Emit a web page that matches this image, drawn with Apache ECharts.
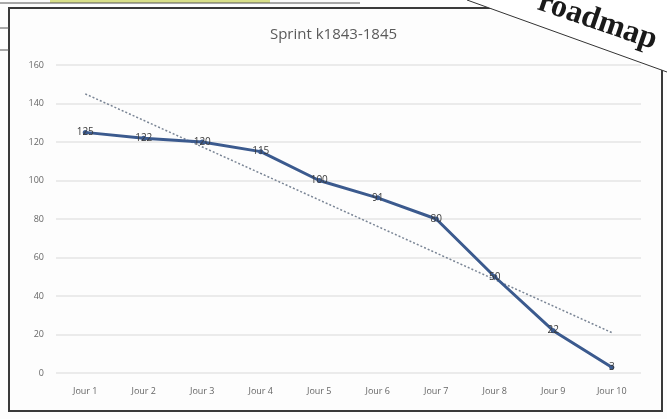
<!DOCTYPE html>
<html><head><meta charset="utf-8">
<script src="https://cdn.jsdelivr.net/npm/echarts@6/dist/echarts.min.js"></script>
<style>html,body{margin:0;padding:0;background:#fff}#c{width:667px;height:419px}</style>
</head><body><div id="c"></div>
<script>
const categories = ['Jour 1','Jour 2','Jour 3','Jour 4','Jour 5','Jour 6','Jour 7','Jour 8','Jour 9','Jour 10'];
const remaining = [125, 122, 120, 115, 100, 91, 80, 50, 22, 3];
const trendStart = 145;
const trendEnd = 21;
const yTicks = [0, 20, 40, 60, 80, 100, 120, 140, 160];

const trend = categories.map((c, i) => i === 0 ? trendStart : (i === categories.length - 1 ? trendEnd : null));

const chart = echarts.init(document.getElementById('c'), null, {renderer: 'canvas'});
chart.setOption({
  backgroundColor: '#fdfdfd',
  animation: false,
  title: {
    text: 'Sprint k1843-1845', left: 'center', top: 22,
    textStyle: {fontFamily: 'Open Sans', fontSize: 15, fontWeight: 'normal', color: '#5a5a5a'}
  },
  grid: {left: 56, right: 26, top: 65, bottom: 46, containLabel: false},
  xAxis: {
    type: 'category', data: categories, boundaryGap: true,
    axisLine: {show: false}, axisTick: {show: false},
    axisLabel: {fontFamily: 'Open Sans', fontSize: 9, color: '#666', margin: 14}
  },
  yAxis: {
    type: 'value', min: yTicks[0], max: yTicks[yTicks.length - 1], interval: 20,
    axisLine: {show: false}, axisTick: {show: false},
    axisLabel: {fontFamily: 'Open Sans', fontSize: 9, color: '#666', margin: 12},
    splitLine: {lineStyle: {color: '#e4e4e4', width: 1.5}}
  },
  series: [
    {
      type: 'line', data: trend, connectNulls: true, symbol: 'none',
      lineStyle: {color: '#7a8595', width: 1.5, type: [2, 2]}, z: 1
    },
    {
      type: 'line', data: remaining, symbol: 'circle', symbolSize: 5,
      lineStyle: {color: '#3b5a8e', width: 3},
      itemStyle: {color: '#3b5a8e'},
      label: {show: true, position: 'inside', fontFamily: 'Open Sans', fontSize: 10, color: '#3a3a3a'},
      z: 3
    }
  ],
  graphic: [
    {type: 'rect', shape: {x: 9, y: 8, width: 653, height: 403}, style: {fill: 'none', stroke: '#3a3a3a', lineWidth: 2}, z: -1},
    {type: 'rect', shape: {x: 50, y: 0, width: 220, height: 3}, style: {fill: '#d9e08a'}},
    {type: 'line', shape: {x1: 0, y1: 3, x2: 360, y2: 3}, style: {stroke: '#555', lineWidth: 1}},
    {type: 'line', shape: {x1: 0, y1: 28, x2: 9, y2: 28}, style: {stroke: '#555', lineWidth: 1}},
    {type: 'line', shape: {x1: 0, y1: 50, x2: 9, y2: 50}, style: {stroke: '#555', lineWidth: 1}},
    {type: 'polygon', shape: {points: [[467, 0], [667, 0], [667, 72]]}, style: {fill: '#ffffff'}, z: 10},
    {type: 'line', shape: {x1: 467, y1: 0, x2: 667, y2: 72}, style: {stroke: '#333', lineWidth: 1}, z: 11},
    {type: 'text', x: 544, y: -14, rotation: -0.33, style: {text: 'roadmap', font: 'bold 32px "Liberation Serif"', fill: '#1a1a1a'}, z: 12}
  ]
});
</script></body></html>
